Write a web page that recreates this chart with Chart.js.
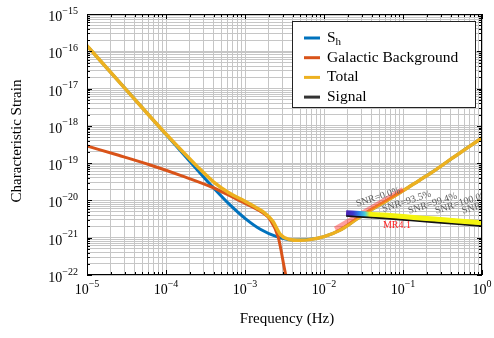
<!DOCTYPE html>
<html>
<head>
<meta charset="utf-8">
<script src="https://cdn.jsdelivr.net/npm/chart.js@4.4.0/dist/chart.umd.min.js"></script>
<style>
html, body { margin: 0; padding: 0; background: #fff; }
</style>
</head>
<body>
<canvas id="strainChart" width="494" height="338"></canvas>
<script>
// values are log10(frequency in Hz) and log10(characteristic strain)
const shLogF = [-5, -4.5, -4, -3.6, -3.4, -3.2, -3.0, -2.8, -2.6, -2.4, -2.2, -2.0, -1.8, -1.6, -1.5, -1.4, -1.2, -1.0, -0.8, -0.6, -0.4, -0.2, 0];
const shLogH = [-15.85, -17.04, -18.23, -19.19, -19.66, -20.1, -20.48, -20.78, -20.97, -21.06, -21.05, -20.97, -20.8, -20.52, -20.38, -20.25, -20.0, -19.74, -19.47, -19.2, -18.9, -18.61, -18.32];

const galLogF = [-5, -4.6, -4.2, -3.8, -3.4, -3.1, -2.9, -2.77, -2.68, -2.58, -2.49, -2.44];
const galLogH = [-18.54, -18.79, -19.05, -19.34, -19.66, -19.97, -20.18, -20.34, -20.52, -20.98, -21.94, -22.4];

const totalLogF = [-5, -4.5, -4, -3.6, -3.4, -3.2, -3.0, -2.85, -2.75, -2.65, -2.55, -2.45, -2.3, -2.0, -1.8, -1.6, -1.5, -1.4, -1.2, -1.0, -0.8, -0.6, -0.4, -0.2, 0];
const totalLogH = [-15.85, -17.04, -18.22, -19.1, -19.5, -19.8, -20.02, -20.2, -20.34, -20.55, -20.92, -21.04, -21.07, -20.97, -20.8, -20.52, -20.38, -20.25, -20.0, -19.74, -19.47, -19.2, -18.9, -18.61, -18.32];

// signal track, coloured by accumulated SNR, and the black signal line under it
const sigLogF = [-1.72, -1.5, -1.2, -0.9, -0.6, -0.3, 0];
const sigLogH = [-20.33, -20.36, -20.40, -20.45, -20.50, -20.55, -20.60];
const sigBlackLogH = [-20.41, -20.44, -20.48, -20.53, -20.58, -20.63, -20.68];
const snrRampEndLogF = -1.42;

// MR4.1 segment
const mrLogF = [-1.86, -1.0];
const mrLogH = [-20.76, -19.70];

// SNR labels along the track
const snrText = ['SNR=0.0%', 'SNR=93.5%', 'SNR=99.4%', 'SNR=100.0%', 'SNR=100.0%'];
const snrLogF = [-1.58, -1.25, -0.92, -0.58, -0.24];
const snrLogH = [-20.17, -20.31, -20.36, -20.36, -20.36];
const mrText = 'MR4.1';
const mrTextLogF = -1.076;
const mrTextLogH = -20.68;

const xDecades = [-5, -4, -3, -2, -1, 0];
const yDecades = [-22, -21, -20, -19, -18, -17, -16, -15];

const SERIF = '"Liberation Serif", "DejaVu Serif", serif';

function pts(lf, lh) {
    return lf.map((f, i) => ({ x: Math.pow(10, f), y: Math.pow(10, lh[i]) }));
}

function logTicks(decades) {
    const ticks = [];
    decades.forEach((d, i) => {
        ticks.push({ value: Math.pow(10, d), major: true });
        if (i < decades.length - 1) {
            for (let k = 2; k <= 9; k++) ticks.push({ value: k * Math.pow(10, d), major: false });
        }
    });
    return ticks;
}

function drawPow(ctx, exp, x, y, align) {
    ctx.font = '14px ' + SERIF;
    const wb = ctx.measureText('10').width;
    ctx.font = '10px ' + SERIF;
    const es = String(exp).replace('-', '\u2212');
    const we = ctx.measureText(es).width;
    const x0 = align === 'center' ? x - (wb + we) / 2 : x - (wb + we);
    ctx.textAlign = 'left';
    ctx.textBaseline = 'alphabetic';
    ctx.font = '14px ' + SERIF;
    ctx.fillText('10', x0, y);
    ctx.font = '10px ' + SERIF;
    ctx.fillText(es, x0 + wb, y - 7.5);
}

const framePlugin = {
    id: 'frame',
    afterDraw(chart) {
        const { ctx, chartArea: a, scales } = chart;
        const xs = scales.x, ys = scales.y;
        ctx.save();

        // annotations, clipped to the axes
        ctx.save();
        ctx.beginPath();
        ctx.rect(a.left, a.top, a.right - a.left, a.bottom - a.top);
        ctx.clip();
        ctx.fillStyle = '#5e5e5e';
        ctx.font = '10px ' + SERIF;
        ctx.textAlign = 'left';
        ctx.textBaseline = 'alphabetic';
        snrText.forEach((t, i) => {
            const px = xs.getPixelForValue(Math.pow(10, snrLogF[i]));
            const py = ys.getPixelForValue(Math.pow(10, snrLogH[i]));
            ctx.save();
            ctx.translate(px, py);
            ctx.rotate(-18 * Math.PI / 180);
            ctx.fillText(t, 0, 0);
            ctx.restore();
        });
        ctx.fillStyle = '#ff1f1f';
        ctx.textAlign = 'center';
        ctx.textBaseline = 'middle';
        ctx.fillText(mrText, xs.getPixelForValue(Math.pow(10, mrTextLogF)), ys.getPixelForValue(Math.pow(10, mrTextLogH)));
        ctx.restore();

        // frame
        ctx.strokeStyle = '#000';
        ctx.lineWidth = 1;
        ctx.strokeRect(a.left + 0.5, a.top + 0.5, a.right - a.left - 1, a.bottom - a.top - 1);

        // inward ticks
        ctx.beginPath();
        xs.ticks.forEach(t => {
            const px = Math.round(xs.getPixelForValue(t.value)) + 0.5;
            const len = t.major ? 5 : 3;
            ctx.moveTo(px, a.bottom); ctx.lineTo(px, a.bottom - len);
            ctx.moveTo(px, a.top); ctx.lineTo(px, a.top + len);
        });
        ys.ticks.forEach(t => {
            const py = Math.round(ys.getPixelForValue(t.value)) + 0.5;
            const len = t.major ? 5 : 3;
            ctx.moveTo(a.left, py); ctx.lineTo(a.left + len, py);
            ctx.moveTo(a.right, py); ctx.lineTo(a.right - len, py);
        });
        ctx.stroke();

        // tick labels
        ctx.fillStyle = '#000';
        xDecades.forEach(d => drawPow(ctx, d, xs.getPixelForValue(Math.pow(10, d)), a.bottom + 19, 'center'));
        yDecades.forEach(d => drawPow(ctx, d, a.left - 9, ys.getPixelForValue(Math.pow(10, d)) + 7, 'right'));

        // axis titles
        ctx.font = '15px ' + SERIF;
        ctx.textAlign = 'center';
        ctx.textBaseline = 'middle';
        ctx.fillText('Frequency (Hz)', 287, 319);
        ctx.save();
        ctx.translate(17, 141);
        ctx.rotate(-Math.PI / 2);
        ctx.fillText('Characteristic Strain', 0, 0);
        ctx.restore();

        // legend
        const bx = 292.5, by = 21.5, bw = 183, bh = 86;
        ctx.fillStyle = '#fff';
        ctx.fillRect(bx, by, bw, bh);
        ctx.strokeStyle = '#222';
        ctx.strokeRect(bx, by, bw, bh);
        const keys = chart.data.datasets.filter(ds => ds.inKey);
        keys.forEach((ds, i) => {
            const ry = 38 + i * 19.7;
            ctx.strokeStyle = ds.keyColor || ds.borderColor;
            ctx.lineWidth = 3;
            ctx.beginPath();
            ctx.moveTo(304, ry); ctx.lineTo(320, ry);
            ctx.stroke();
            ctx.fillStyle = '#000';
            ctx.textAlign = 'left';
            ctx.textBaseline = 'middle';
            const parts = ds.label.split('_');
            ctx.font = '15.5px ' + SERIF;
            ctx.fillText(parts[0], 327, ry);
            if (parts[1]) {
                const w = ctx.measureText(parts[0]).width;
                ctx.font = '11px ' + SERIF;
                ctx.fillText(parts[1], 327 + w, ry + 4);
            }
        });
        ctx.restore();
    }
};

const ctx = document.getElementById('strainChart').getContext('2d');
const strainChart = new Chart(ctx, {
    type: 'line',
    data: {
        datasets: [
            {
                label: 'S_h', inKey: true,
                data: pts(shLogF, shLogH),
                borderColor: '#0072bd', borderWidth: 3, order: 6
            },
            {
                label: 'Galactic Background', inKey: true,
                data: pts(galLogF, galLogH),
                borderColor: '#d95319', borderWidth: 3, order: 5
            },
            {
                label: 'Total', inKey: true,
                data: pts(totalLogF, totalLogH),
                borderColor: '#edb120', borderWidth: 3.5, order: 4
            },
            {
                label: 'MR4.1',
                data: pts(mrLogF, mrLogH),
                borderColor: 'rgba(255, 40, 40, 0.45)', borderWidth: 4.5, order: 3,
                cubicInterpolationMode: 'default', tension: 0
            },
            {
                label: 'Signal', inKey: true, keyColor: '#333',
                data: pts(sigLogF, sigBlackLogH),
                borderColor: '#111', borderWidth: 2.2, order: 2
            },
            {
                label: 'SNR track',
                data: pts(sigLogF, sigLogH),
                borderWidth: 5, order: 1,
                borderColor: (c) => {
                    const chart = c.chart;
                    const area = chart.chartArea;
                    if (!area || !chart.scales.x) return '#f4f40e';
                    const x0 = chart.scales.x.getPixelForValue(Math.pow(10, sigLogF[0]));
                    const x1 = chart.scales.x.getPixelForValue(Math.pow(10, snrRampEndLogF));
                    const g = chart.ctx.createLinearGradient(x0, 0, x1, 0);
                    g.addColorStop(0, '#4a1fb0');
                    g.addColorStop(0.3, '#3b38cc');
                    g.addColorStop(0.55, '#2a84e4');
                    g.addColorStop(0.8, '#45cfdc');
                    g.addColorStop(1, '#f4f40e');
                    return g;
                }
            }
        ]
    },
    options: {
        responsive: false,
        animation: false,
        devicePixelRatio: 1,
        layout: { padding: { left: 87, right: 12, top: 14, bottom: 63 } },
        elements: {
            point: { radius: 0, hoverRadius: 0 },
            line: { cubicInterpolationMode: 'monotone', fill: false, borderCapStyle: 'butt' }
        },
        plugins: { legend: { display: false }, tooltip: { enabled: false } },
        scales: {
            x: {
                type: 'logarithmic', min: 1e-5, max: 1,
                afterBuildTicks: (s) => { s.ticks = logTicks(xDecades); },
                ticks: { display: false },
                grid: { color: '#c6c6c6', lineWidth: 1, drawTicks: false },
                border: { display: false }
            },
            y: {
                type: 'logarithmic', min: 1e-22, max: 1e-15,
                afterBuildTicks: (s) => { s.ticks = logTicks(yDecades); },
                ticks: { display: false },
                grid: { color: '#c6c6c6', lineWidth: 1, drawTicks: false },
                border: { display: false }
            }
        }
    },
    plugins: [framePlugin]
});
</script>
</body>
</html>
